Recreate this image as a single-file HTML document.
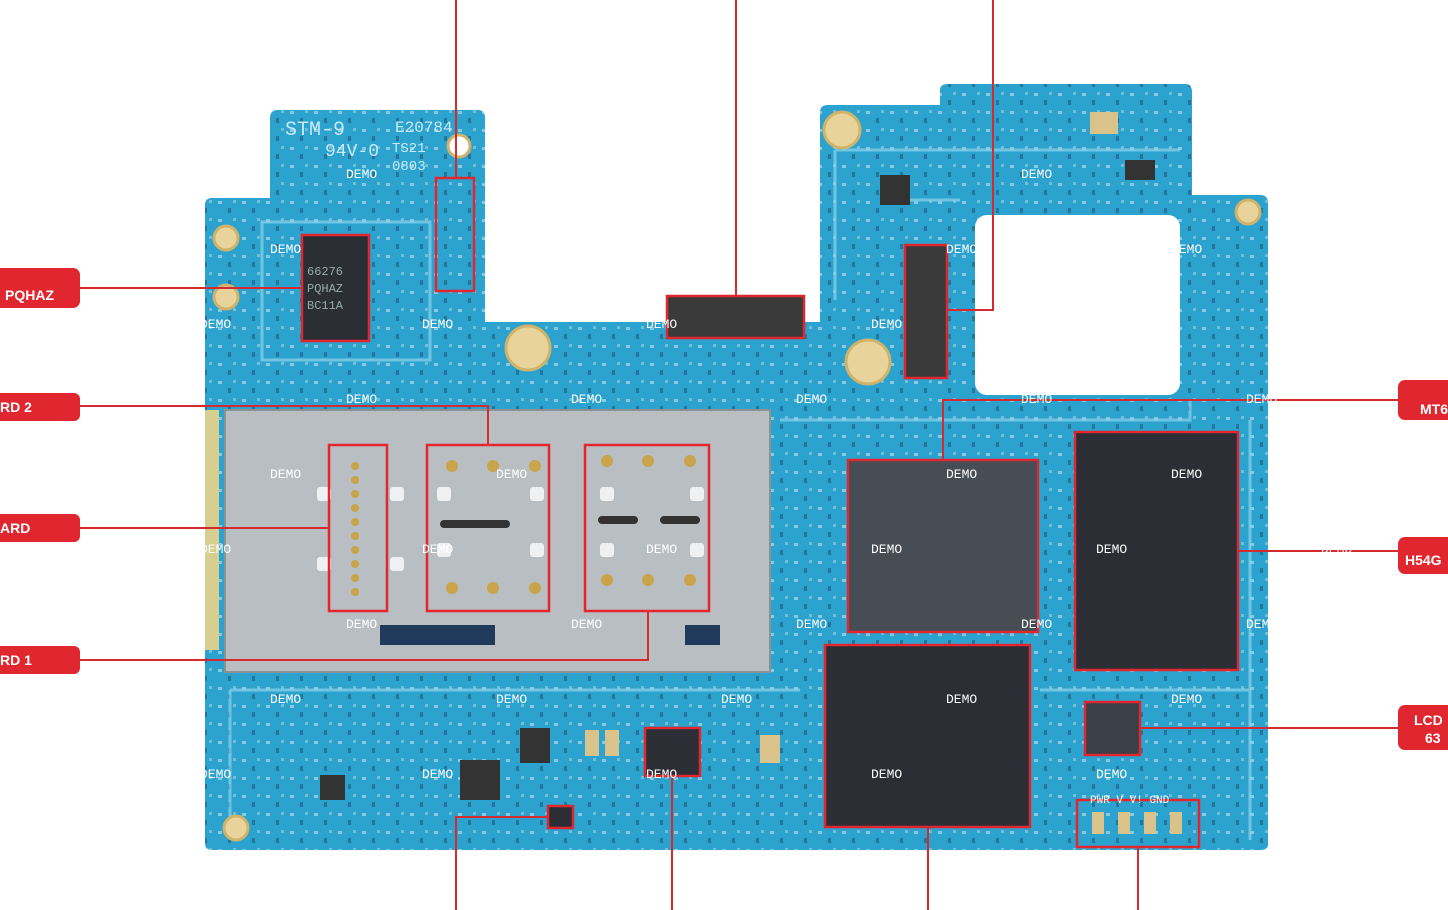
<!DOCTYPE html>
<html><head><style>
html,body{margin:0;padding:0;background:#fff;width:1448px;height:910px;overflow:hidden}
svg{display:block}
text{font-family:"Liberation Mono",monospace}
.d{fill:#fff;font-size:13px}
.l{fill:#fff;font-family:"Liberation Sans",sans-serif;font-weight:bold;font-size:14px}
</style></head><body>
<svg width="1448" height="910" viewBox="0 0 1448 910">
<defs>
<pattern id="tx" width="24" height="18" patternUnits="userSpaceOnUse">
<rect x="2" y="3" width="4" height="3" fill="#d8e6ee" opacity="0.55"/>
<rect x="12" y="10" width="3" height="5" fill="#1c4a66" opacity="0.5"/>
<rect x="17" y="2" width="3" height="3" fill="#e4e4e4" opacity="0.4"/>
</pattern>
</defs>
<!-- board -->
<path id="bd" d="M205,205 Q205,198 212,198 L270,198 L270,118 Q270,110 278,110 L478,110 Q485,110 485,118 L485,322 L820,322 L820,112 Q820,105 828,105 L940,105 L940,90 Q940,84 948,84 L1185,84 Q1192,84 1192,92 L1192,195 L1260,195 Q1268,195 1268,203 L1268,845 Q1268,850 1260,850 L212,850 Q205,850 205,843 Z" fill="#2ca3cf"/>
<path d="M205,205 Q205,198 212,198 L270,198 L270,118 Q270,110 278,110 L478,110 Q485,110 485,118 L485,322 L820,322 L820,112 Q820,105 828,105 L940,105 L940,90 Q940,84 948,84 L1185,84 Q1192,84 1192,92 L1192,195 L1260,195 Q1268,195 1268,203 L1268,845 Q1268,850 1260,850 L212,850 Q205,850 205,843 Z" fill="url(#tx)"/>
<rect x="975" y="215" width="205" height="180" rx="12" fill="#fff"/>
<!-- traces -->
<g fill="none" stroke="#8fd3ea" stroke-width="3" opacity="0.7">
<path d="M262,222 L430,222 L430,360 L262,360 Z"/>
<path d="M835,150 L1180,150 M835,150 L835,300 M890,200 L960,200"/>
<path d="M230,690 L800,690 M230,690 L230,840 M1040,690 L1250,690 M1250,420 L1250,840"/>
<path d="M1190,400 L1190,420 L780,420"/>
</g>
<!-- yellow tabs -->
<g fill="#e8d49a" stroke="#cfb36a" stroke-width="3">
<circle cx="226" cy="238" r="12"/><circle cx="226" cy="297" r="12"/>
<circle cx="528" cy="348" r="22"/><circle cx="842" cy="130" r="18"/><circle cx="868" cy="362" r="22"/>
<circle cx="1248" cy="212" r="12"/><circle cx="236" cy="828" r="12"/>
<circle cx="459" cy="146" r="11" fill="#fff"/>
</g>
<rect x="205" y="410" width="14" height="240" fill="#d6cf90"/>
<!-- shield -->
<rect x="225" y="410" width="545" height="262" fill="#b9bec2" stroke="#8c9194" stroke-width="2"/>
<g fill="#eef0f1">
<rect x="317" y="487" width="14" height="14" rx="3"/><rect x="317" y="557" width="14" height="14" rx="3"/>
<rect x="390" y="487" width="14" height="14" rx="3"/><rect x="390" y="557" width="14" height="14" rx="3"/>
<rect x="437" y="487" width="14" height="14" rx="3"/><rect x="530" y="487" width="14" height="14" rx="3"/>
<rect x="437" y="543" width="14" height="14" rx="3"/><rect x="530" y="543" width="14" height="14" rx="3"/>
<rect x="600" y="487" width="14" height="14" rx="3"/><rect x="690" y="487" width="14" height="14" rx="3"/>
<rect x="600" y="543" width="14" height="14" rx="3"/><rect x="690" y="543" width="14" height="14" rx="3"/>
</g>
<rect x="380" y="625" width="115" height="20" fill="#1f3a5a"/>
<rect x="685" y="625" width="35" height="20" fill="#1f3a5a"/>
<g fill="#c8a44a">
<circle cx="355" cy="466" r="4"/><circle cx="355" cy="480" r="4"/><circle cx="355" cy="494" r="4"/><circle cx="355" cy="508" r="4"/><circle cx="355" cy="522" r="4"/><circle cx="355" cy="536" r="4"/><circle cx="355" cy="550" r="4"/><circle cx="355" cy="564" r="4"/><circle cx="355" cy="578" r="4"/><circle cx="355" cy="592" r="4"/>
<circle cx="452" cy="466" r="6"/><circle cx="493" cy="466" r="6"/><circle cx="535" cy="466" r="6"/>
<circle cx="452" cy="588" r="6"/><circle cx="493" cy="588" r="6"/><circle cx="535" cy="588" r="6"/>
<circle cx="607" cy="461" r="6"/><circle cx="648" cy="461" r="6"/><circle cx="690" cy="461" r="6"/>
<circle cx="607" cy="580" r="6"/><circle cx="648" cy="580" r="6"/><circle cx="690" cy="580" r="6"/>
</g>
<rect x="440" y="520" width="70" height="8" rx="4" fill="#333"/>
<rect x="598" y="516" width="40" height="8" rx="4" fill="#333"/><rect x="660" y="516" width="40" height="8" rx="4" fill="#333"/>
<!-- chips -->
<g fill="#2b2f35">
<rect x="303" y="235" width="65" height="105"/>
<rect x="848" y="460" width="190" height="172" fill="#474d55"/>
<rect x="1075" y="432" width="163" height="238"/>
<rect x="825" y="645" width="205" height="182"/>
<rect x="1085" y="702" width="55" height="53" fill="#3a4048"/>
<rect x="645" y="728" width="55" height="48"/>
<rect x="668" y="297" width="135" height="40" fill="#3a3a3a"/>
<rect x="905" y="245" width="42" height="133" fill="#3a3a3a"/>
<rect x="460" y="760" width="40" height="40" fill="#333"/>
<rect x="520" y="728" width="30" height="35" fill="#333"/>
<rect x="548" y="806" width="25" height="22"/>
<rect x="880" y="175" width="30" height="30" fill="#333"/>
<rect x="1125" y="160" width="30" height="20" fill="#333"/>
<rect x="320" y="775" width="25" height="25" fill="#333"/>
</g>
<g fill="#d9c38a">
<rect x="1092" y="812" width="12" height="22"/><rect x="1118" y="812" width="12" height="22"/><rect x="1144" y="812" width="12" height="22"/><rect x="1170" y="812" width="12" height="22"/>
<rect x="585" y="730" width="14" height="26"/><rect x="605" y="730" width="14" height="26"/><rect x="760" y="735" width="20" height="28"/>
<rect x="1090" y="112" width="28" height="22"/>
</g>
<text x="307" y="275" fill="#9aa" font-size="12">66276</text>
<text x="307" y="292" fill="#9aa" font-size="12">PQHAZ</text>
<text x="307" y="309" fill="#9aa" font-size="12">BC11A</text>
<text x="285" y="135" fill="#c8eaf5" font-size="20" font-family="Liberation Sans">STM-9</text>
<text x="395" y="132" fill="#c8eaf5" font-size="16">E20784</text>
<text x="325" y="156" fill="#c8eaf5" font-size="18">94V-0</text>
<text x="392" y="152" fill="#c8eaf5" font-size="14">TS21</text>
<text x="392" y="170" fill="#c8eaf5" font-size="14">0803</text>
<!-- red boxes -->
<g fill="none" stroke="#e0262e" stroke-width="2.5">
<rect x="436" y="178" width="38" height="113"/>
<rect x="302" y="235" width="67" height="106"/>
<rect x="667" y="296" width="137" height="42"/>
<rect x="905" y="245" width="42" height="133"/>
<rect x="329" y="445" width="58" height="166"/>
<rect x="427" y="445" width="122" height="166"/>
<rect x="585" y="445" width="124" height="166"/>
<rect x="848" y="460" width="190" height="172"/>
<rect x="1075" y="432" width="163" height="238"/>
<rect x="825" y="645" width="205" height="182"/>
<rect x="1085" y="702" width="55" height="53"/>
<rect x="645" y="728" width="55" height="48"/>
<rect x="548" y="806" width="25" height="22"/>
<rect x="1077" y="800" width="122" height="47"/>
</g>
<!-- connectors -->
<g fill="none" stroke="#d42a30" stroke-width="2">
<path d="M456,0 V178"/><path d="M736,0 V296"/><path d="M993,0 V310 H947"/>
<path d="M80,288 H302"/>
<path d="M80,406 H488 V445"/>
<path d="M80,528 H329"/>
<path d="M80,660 H648 V611"/>
<path d="M1398,400 H943 V460"/>
<path d="M1398,551 H1238"/>
<path d="M1398,728 H1140"/>
<path d="M456,910 V817 H548"/><path d="M672,910 V776"/><path d="M928,910 V827"/><path d="M1138,910 V847"/>
</g>
<!-- labels -->
<g fill="#e0262e">
<rect x="-10" y="268" width="90" height="40" rx="7"/>
<rect x="-10" y="393" width="90" height="28" rx="6"/>
<rect x="-10" y="514" width="90" height="28" rx="6"/>
<rect x="-10" y="646" width="90" height="28" rx="6"/>
<rect x="1398" y="380" width="70" height="40" rx="7"/>
<rect x="1398" y="537" width="70" height="37" rx="7"/>
<rect x="1398" y="705" width="70" height="45" rx="7"/>
</g>
<text class="l" x="5" y="300">PQHAZ</text>
<text class="l" x="0" y="412">RD  2</text>
<text class="l" x="0" y="533">ARD</text>
<text class="l" x="0" y="665">RD  1</text>
<text class="l" x="1420" y="414">MT6</text>
<text class="l" x="1405" y="565">H54G</text>
<text class="l" x="1414" y="725">LCD</text>
<text class="l" x="1425" y="743">63</text>
<!-- DEMO -->
<g class="d">
<text x="346" y="178">DEMO</text><text x="270" y="253">DEMO</text><text x="200" y="328">DEMO</text><text x="422" y="328">DEMO</text>
<text x="346" y="403">DEMO</text><text x="571" y="403">DEMO</text><text x="796" y="403">DEMO</text><text x="1021" y="403">DEMO</text><text x="1246" y="403">DEMO</text>
<text x="270" y="478">DEMO</text><text x="496" y="478">DEMO</text><text x="946" y="478">DEMO</text><text x="1171" y="478">DEMO</text>
<text x="200" y="553">DEMO</text><text x="422" y="553">DEMO</text><text x="646" y="553">DEMO</text><text x="871" y="553">DEMO</text><text x="1096" y="553">DEMO</text><text x="1321" y="553">DEMO</text>
<text x="346" y="628">DEMO</text><text x="571" y="628">DEMO</text><text x="796" y="628">DEMO</text><text x="1021" y="628">DEMO</text><text x="1246" y="628">DEMO</text>
<text x="270" y="703">DEMO</text><text x="496" y="703">DEMO</text><text x="721" y="703">DEMO</text><text x="946" y="703">DEMO</text><text x="1171" y="703">DEMO</text>
<text x="200" y="778">DEMO</text><text x="422" y="778">DEMO</text><text x="646" y="778">DEMO</text><text x="871" y="778">DEMO</text><text x="1096" y="778">DEMO</text>
<text x="646" y="328">DEMO</text><text x="871" y="328">DEMO</text><text x="946" y="253">DEMO</text><text x="1171" y="253">DEMO</text><text x="1021" y="178">DEMO</text>
</g>
<text x="1090" y="803" fill="#fff" font-size="11">PWR V  V! GND</text>
</svg>
</body></html>
